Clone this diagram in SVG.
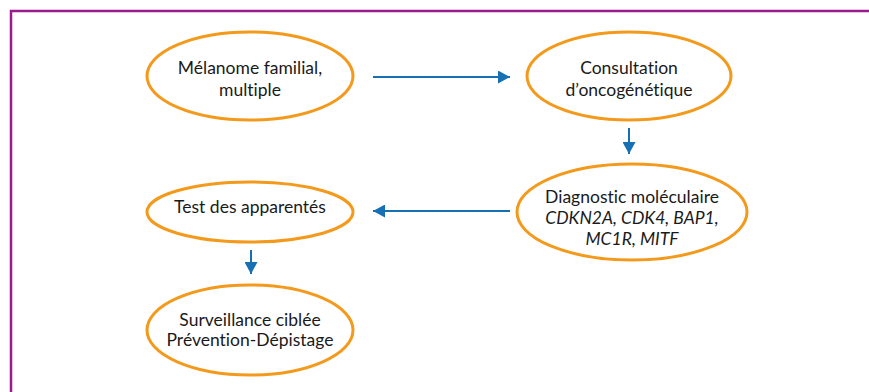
<svg xmlns="http://www.w3.org/2000/svg" width="869" height="392" viewBox="0 0 869 392">
<style>
.n ellipse{fill:#fff;stroke:#f39a1c;stroke-width:3}
.n text{font-family:Lato,"Open Sans","Liberation Sans",sans-serif;font-size:17.5px;fill:#1a1a1a;text-anchor:middle;font-variant-ligatures:none}
.i{font-style:italic}
.c line{stroke:#1670b3;stroke-width:2}
</style>
<defs>
<marker id="ah" markerWidth="13" markerHeight="13" refX="12" refY="6.5" orient="auto" markerUnits="userSpaceOnUse">
<path d="M0,0 L12,6.5 L0,13 Z" fill="#1670b3"/>
</marker>
</defs>
<rect width="869" height="392" fill="#fff"/>
<path d="M11,392 V11 H869" fill="none" stroke="#9b1b8c" stroke-width="2.5"/>
<g class="c">
<line x1="373" y1="77" x2="510" y2="77" marker-end="url(#ah)"/>
<line x1="629" y1="128" x2="629" y2="154" marker-end="url(#ah)"/>
<line x1="510" y1="211" x2="373" y2="211" marker-end="url(#ah)"/>
<line x1="251" y1="250" x2="251" y2="274" marker-end="url(#ah)"/>
</g>
<g id="melanome" class="n">
<ellipse cx="250" cy="76" rx="103" ry="44"/>
<text x="250" y="74">Mélanome familial,</text>
<text x="250" y="96">multiple</text>
</g>
<g id="consultation" class="n">
<ellipse cx="629" cy="76" rx="102" ry="44"/>
<text x="629" y="74">Consultation</text>
<text x="629" y="96">d’oncogénétique</text>
</g>
<g id="diagnostic" class="n">
<ellipse cx="632" cy="212" rx="115" ry="48"/>
<text x="632" y="203">Diagnostic moléculaire</text>
<text x="632" y="224" class="i">CDKN2A, CDK4, BAP1,</text>
<text x="632" y="245" class="i">MC1R, MITF</text>
</g>
<g id="test" class="n">
<ellipse cx="250" cy="212" rx="103" ry="30"/>
<text x="250" y="213">Test des apparentés</text>
</g>
<g id="surveillance" class="n">
<ellipse cx="250" cy="330" rx="103" ry="45"/>
<text x="250" y="326">Surveillance ciblée</text>
<text x="250" y="346">Prévention-Dépistage</text>
</g>
</svg>
